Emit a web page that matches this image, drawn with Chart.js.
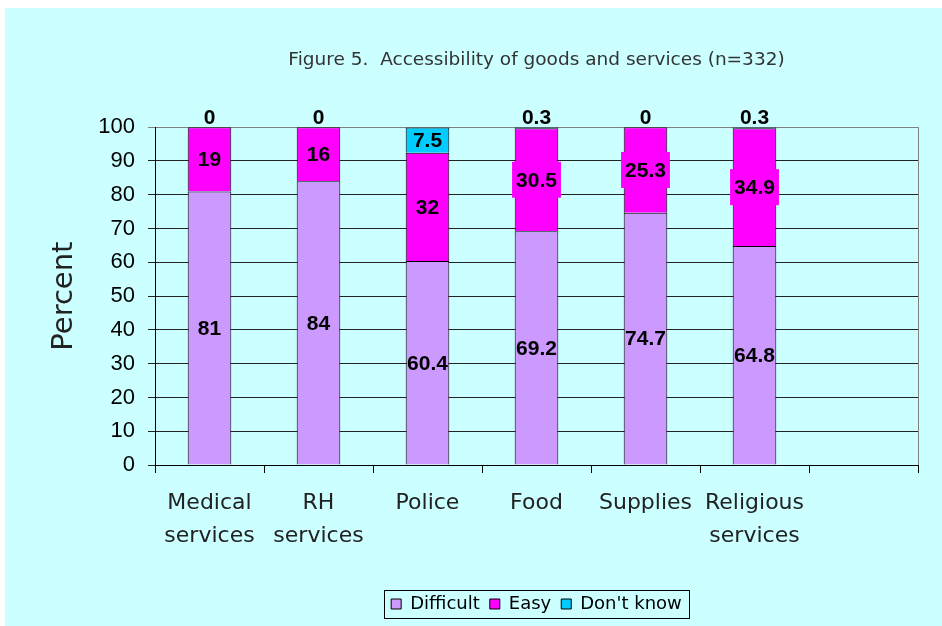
<!DOCTYPE html>
<html>
<head>
<meta charset="utf-8">
<script src="https://cdn.jsdelivr.net/npm/chart.js@4/dist/chart.umd.min.js"></script>
<style>
  html, body { margin: 0; padding: 0; background: #fff; }
  canvas { display: block; }
</style>
</head>
<body>
<canvas id="chart" width="942" height="626"></canvas>
<script>
// values
const categories = [["Medical", "services"], ["RH", "services"], "Police", "Food", "Supplies", ["Religious", "services"], ""];
const difficult = [81, 84, 60.4, 69.2, 74.7, 64.8, null];
const easy = [19, 16, 32, 30.5, 25.3, 34.9, null];
const dontKnow = [0, 0, 7.5, 0.3, 0, 0.3, null];
const yMin = 0, yMax = 100, yStep = 10;

const titleText = "Figure 5.  Accessibility of goods and services (n=332)";
const sans = '"DejaVu Sans", sans-serif';
const arial = '"Liberation Sans", Arial, sans-serif';

// cyan panel behind everything
const background = {
  id: "background",
  beforeDraw(chart) {
    const { ctx, width, height } = chart;
    ctx.save();
    ctx.fillStyle = "#fff";
    ctx.fillRect(0, 0, width, height);
    ctx.fillStyle = "#ccffff";
    ctx.fillRect(5, 8, width - 5, height - 8);
    ctx.restore();
  }
};

// right edge of plot area in grey
const frame = {
  id: "frame",
  beforeDatasetsDraw(chart) {
    const { ctx, chartArea } = chart;
    ctx.save();
    ctx.strokeStyle = "#808080";
    ctx.lineWidth = 1;
    ctx.beginPath();
    ctx.moveTo(Math.round(chartArea.right) + 0.5, chartArea.top);
    ctx.lineTo(Math.round(chartArea.right) + 0.5, chartArea.bottom);
    ctx.stroke();
    ctx.restore();
  }
};

// value labels on each segment
const valueLabels = {
  id: "valueLabels",
  afterDatasetsDraw(chart) {
    const ctx = chart.ctx;
    ctx.save();
    ctx.font = "bold 21px " + arial;
    ctx.textAlign = "center";
    ctx.textBaseline = "middle";
    chart.data.datasets.forEach((ds, i) => {
      const meta = chart.getDatasetMeta(i);
      meta.data.forEach((bar, j) => {
        const v = ds.data[j];
        if (v === null || v === undefined) return;
        const txt = String(v);
        let y;
        if (v < 1) {
          y = Math.min(bar.y, bar.base) - 10;
        } else {
          y = (bar.y + bar.base) / 2;
          if (ds.labelBox) {
            const w = ctx.measureText(txt).width + 8;
            const h = Math.min(36, Math.abs(bar.base - bar.y));
            ctx.fillStyle = ds.backgroundColor;
            ctx.fillRect(bar.x - w / 2, y - h / 2, w, h);
          }
        }
        ctx.fillStyle = "#000";
        ctx.fillText(txt, bar.x, y + 1);
      });
    });
    ctx.restore();
  }
};

// box around legend items
const legendBox = {
  id: "legendBox",
  afterDraw(chart) {
    const boxes = chart.legend && chart.legend.legendHitBoxes;
    if (!boxes || !boxes.length) return;
    const l = Math.min(...boxes.map(b => b.left)) - 7;
    const r = Math.max(...boxes.map(b => b.left + b.width)) + 7;
    const t = Math.min(...boxes.map(b => b.top)) - 5;
    const b = Math.max(...boxes.map(b => b.top + b.height)) + 5;
    const ctx = chart.ctx;
    ctx.save();
    ctx.strokeStyle = "#000";
    ctx.lineWidth = 1;
    ctx.strokeRect(Math.round(l) + 0.5, Math.round(t) + 0.5, Math.round(r - l), Math.round(b - t));
    ctx.restore();
  }
};

new Chart(document.getElementById("chart"), {
  type: "bar",
  data: {
    labels: categories,
    datasets: [
      { label: "Difficult", data: difficult, backgroundColor: "#cc99ff", borderColor: "#000", borderWidth: 1 },
      { label: "Easy", data: easy, backgroundColor: "#ff00ff", borderColor: "#000", borderWidth: 1, labelBox: true },
      { label: "Don't know", data: dontKnow, backgroundColor: "#00ccff", borderColor: "#000", borderWidth: 1 }
    ]
  },
  options: {
    responsive: false,
    animation: false,
    datasets: { bar: { barPercentage: 0.4, categoryPercentage: 1.0 } },
    layout: { padding: { left: 0, right: 24, top: 0, bottom: 3 } },
    plugins: {
      title: {
        display: true,
        fullSize: false,
        text: titleText,
        color: "#333",
        font: { family: sans, size: 18.5, weight: "normal" },
        padding: { top: 49, bottom: 56 }
      },
      legend: {
        position: "bottom",
        fullSize: false,
        labels: {
          color: "#000",
          font: { family: sans, size: 18 },
          boxWidth: 10,
          boxHeight: 10,
          padding: 10
        }
      },
      tooltip: { enabled: false }
    },
    scales: {
      x: {
        stacked: true,
        afterFit(scale) { scale.height = 120; },
        grid: { drawOnChartArea: false, drawTicks: true, tickLength: 8, color: "#000", offset: true },
        border: { color: "#000" },
        ticks: {
          color: "#222",
          font: { family: sans, size: 22, lineHeight: 1.5 },
          maxRotation: 0,
          autoSkip: false,
          padding: 14
        }
      },
      y: {
        stacked: true,
        min: yMin,
        max: yMax,
        afterFit(scale) { scale.width = 155; },
        grid: {
          color: ctx => (ctx.tick && ctx.tick.value === yMax ? "#808080" : "#222"),
          tickLength: 7
        },
        border: { color: "#000" },
        ticks: {
          stepSize: yStep,
          color: "#000",
          font: { family: arial, size: 22 },
          padding: 13
        },
        title: {
          display: true,
          text: "Percent",
          color: "#222",
          font: { family: sans, size: 29 },
          padding: { top: 47, bottom: 0 }
        }
      }
    }
  },
  plugins: [background, frame, valueLabels, legendBox]
});
</script>
</body>
</html>
